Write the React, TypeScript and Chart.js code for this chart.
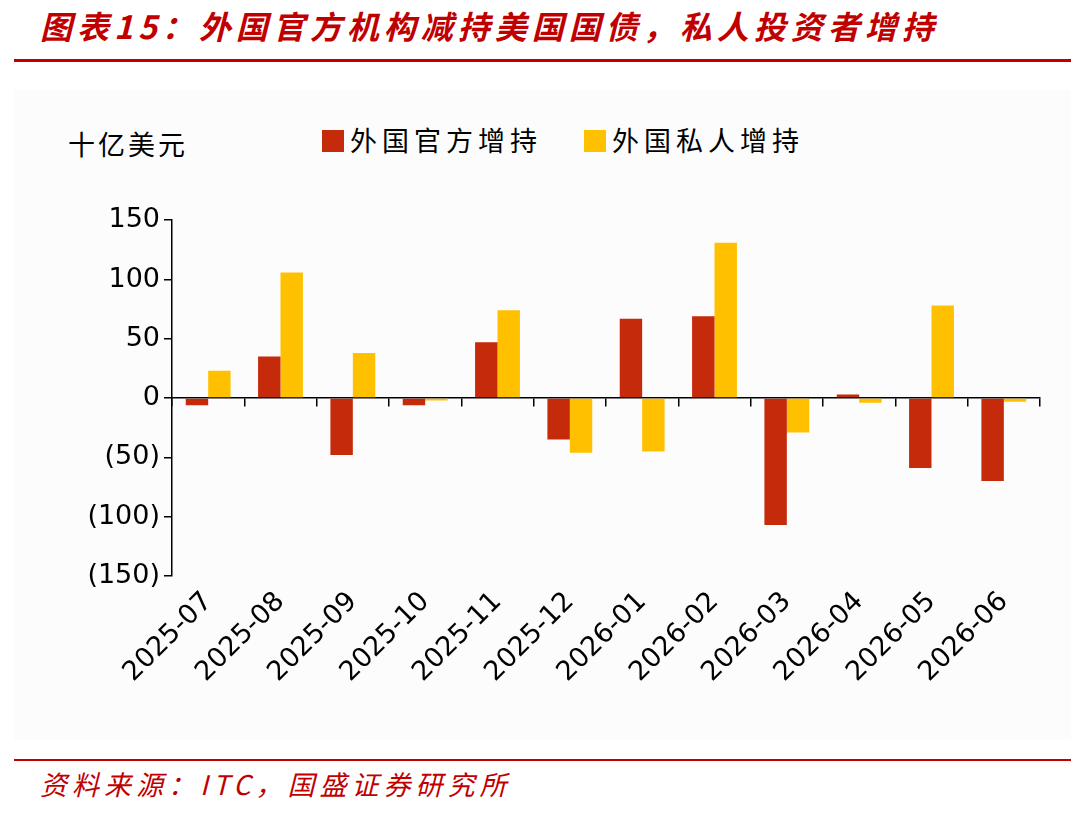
import React, { useEffect, useRef } from "react";
import { Chart, registerables } from "chart.js";
Chart.register(...registerables);

const categories = ["2025-07","2025-08","2025-09","2025-10","2025-11","2025-12","2026-01","2026-02","2026-03","2026-04","2026-05","2026-06"];
const officialValues = [-6, 35, -48, -6, 47, -35, 67, 69, -107, 3, -59, -70];
const privateValues = [23, 106, 38, -2, 74, -46, -45, 131, -29, -4, 78, -3];
const seriesNames = ["外国官方增持", "外国私人增持"];
const yTicks = [-150, -100, -50, 0, 50, 100, 150];

const FONT = "'DejaVu Sans', Verdana, sans-serif";

export default function App() {
  const ref = useRef<HTMLCanvasElement>(null);
  useEffect(() => {
    const chart = new Chart(ref.current!, {
      type: "bar",
      data: {
        labels: categories,
        datasets: [
          { label: seriesNames[0], data: officialValues, backgroundColor: "#C52A0A", xAxisID: "x" },
          { label: seriesNames[1], data: privateValues, backgroundColor: "#FFC000", xAxisID: "x" },
        ],
      },
      options: {
        animation: false,
        responsive: false,
        maintainAspectRatio: false,
        layout: { padding: { top: 20, right: 20 } },
        plugins: { legend: { display: false }, tooltip: { enabled: false } },
        datasets: { bar: { categoryPercentage: 0.62, barPercentage: 1 } },
        scales: {
          x: {
            type: "category",
            position: "bottom",
            border: { display: false },
            grid: { display: false },
            ticks: { minRotation: 45, maxRotation: 45, color: "#000", font: { family: FONT, size: 27 }, padding: 2 },
            afterFit: (s: any) => { s.height = 150; },
          },
          x2: {
            type: "category",
            labels: categories,
            position: { y: 0 } as any,
            offset: true,
            border: { display: true, color: "#000", width: 1.5 },
            grid: { display: true, drawOnChartArea: false, offset: true, tickLength: 8, color: "#000", lineWidth: 1.5 },
            ticks: { display: false },
          },
          y: {
            min: -150, max: 150,
            afterBuildTicks: (s: any) => { s.ticks = yTicks.map((v) => ({ value: v })); },
            border: { display: true, color: "#000", width: 1.5 },
            grid: { display: true, drawOnChartArea: false, tickLength: 8, color: "#000", lineWidth: 1.5 },
            ticks: {
              color: "#000",
              font: { family: FONT, size: 27 },
              padding: 4,
              callback: (v: any) => (v < 0 ? `(${-v})` : `${v}`),
            },
            afterFit: (s: any) => { s.width = 172; },
          },
        },
      },
    });
    return () => chart.destroy();
  }, []);

  const red = "#C00000";
  return (
    <div style={{ position: "absolute", left: 0, top: 0, width: 1080, height: 819, background: "#fff", overflow: "hidden", fontFamily: "'Noto Sans CJK SC', sans-serif" }}>
      <div style={{ position: "absolute", left: 40, top: 2, fontSize: 32, fontStyle: "italic", fontWeight: "bold", color: red, letterSpacing: 5 }}>
        图表15：外国官方机构减持美国国债，私人投资者增持
      </div>
      <div style={{ position: "absolute", left: 14, top: 59, width: 1057, height: 3, background: red }} />
      <div style={{ position: "absolute", left: 14, top: 90, width: 1057, height: 650, background: "#fcfcfc" }} />
      <div style={{ position: "absolute", left: 68, top: 124, fontSize: 27, color: "#000", letterSpacing: 3 }}>十亿美元</div>
      <div style={{ position: "absolute", left: 322, top: 130, width: 22, height: 22, background: "#C52A0A" }} />
      <div style={{ position: "absolute", left: 350, top: 120, fontSize: 27, color: "#000", letterSpacing: 5 }}>{seriesNames[0]}</div>
      <div style={{ position: "absolute", left: 584, top: 130, width: 22, height: 22, background: "#FFC000" }} />
      <div style={{ position: "absolute", left: 612, top: 120, fontSize: 27, color: "#000", letterSpacing: 5 }}>{seriesNames[1]}</div>
      <canvas ref={ref} width={1060} height={526} style={{ position: "absolute", left: 0, top: 200, width: 1060, height: 526 }} />
      <div style={{ position: "absolute", left: 14, top: 759, width: 1057, height: 2, background: red }} />
      <div style={{ position: "absolute", left: 40, top: 764, fontSize: 27, fontStyle: "italic", color: red, letterSpacing: 5 }}>
        资料来源：ITC，国盛证券研究所
      </div>
    </div>
  );
}
